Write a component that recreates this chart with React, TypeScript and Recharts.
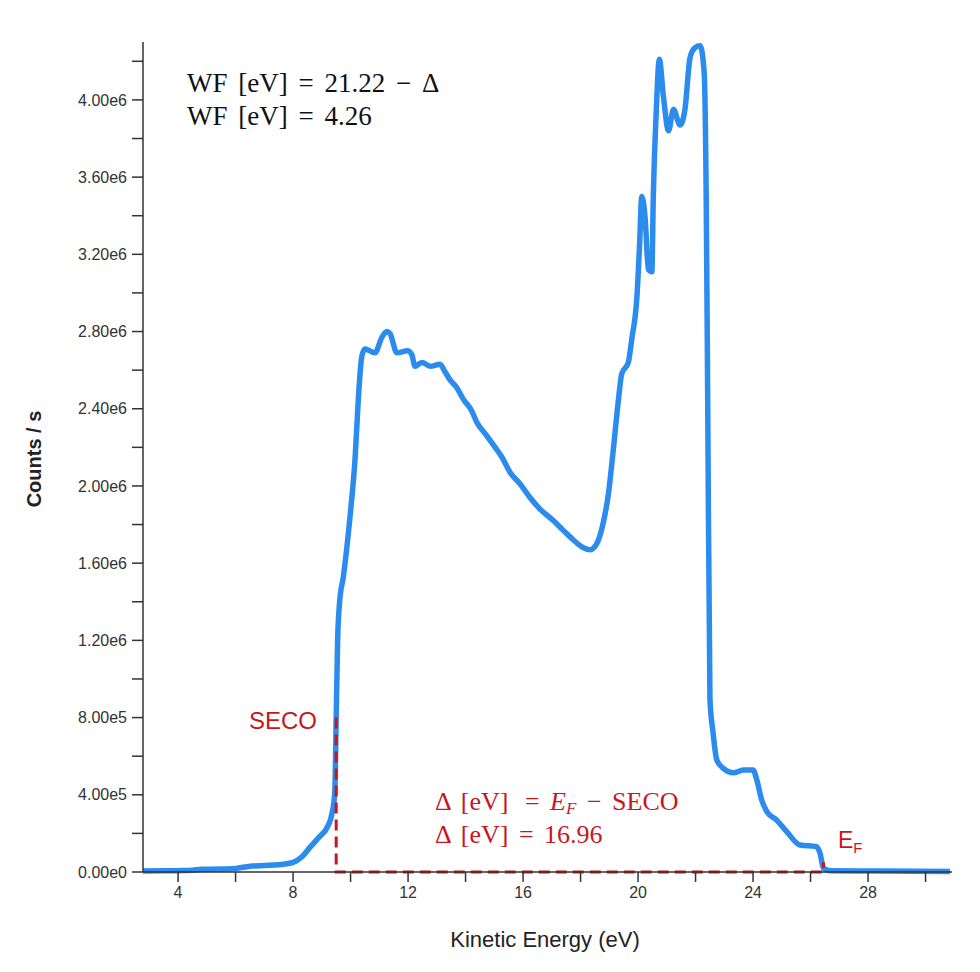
import { LineChart, Line, XAxis, YAxis } from 'recharts';

// UPS spectrum
const energy = [
  2.78, 3.5, 4.0, 4.5, 4.8, 5.5, 6.0, 6.5, 7.0, 7.5, 8.0, 8.3, 8.6, 8.9, 9.2, 9.35, 9.45, 9.5, 9.55, 9.62,
  9.75, 9.98, 10.16, 10.27, 10.39, 10.5, 10.85, 11.09, 11.26, 11.37, 11.61, 11.98, 12.13, 12.24, 12.48,
  12.77, 13.11, 13.29, 13.46, 13.69, 13.92, 14.21, 14.39, 14.74, 15.03, 15.26, 15.55, 15.9, 16.24, 16.59,
  17.06, 17.4, 17.75, 18.1, 18.33, 18.56, 18.79, 18.97, 19.14, 19.32, 19.43, 19.66, 19.78, 19.96, 20.05,
  20.13, 20.24, 20.36, 20.48, 20.53, 20.63, 20.74, 20.88, 21.06, 21.23, 21.46, 21.63, 21.81, 21.98, 22.16,
  22.3, 22.37, 22.42, 22.5, 22.61, 22.74, 22.97, 23.32, 23.66, 24.0, 24.13, 24.3, 24.48, 24.82, 25.17,
  25.63, 26.21, 26.33, 26.45, 26.68, 28.4, 30.85,
];
const counts = [
  5e3, 6e3, 7e3, 9e3, 1.4e4, 1.5e4, 1.8e4, 3.0e4, 3.4e4, 3.8e4, 5.0e4, 7.8e4, 1.3e5, 1.8e5, 2.35e5, 3.0e5,
  4.1e5, 8.0e5, 1.2e6, 1.4e6, 1.53e6, 1.84e6, 2.15e6, 2.45e6, 2.67e6, 2.71e6, 2.69e6, 2.77e6, 2.8e6, 2.79e6,
  2.69e6, 2.7e6, 2.68e6, 2.62e6, 2.64e6, 2.62e6, 2.63e6, 2.59e6, 2.55e6, 2.51e6, 2.45e6, 2.39e6, 2.33e6,
  2.26e6, 2.2e6, 2.15e6, 2.07e6, 2.01e6, 1.94e6, 1.88e6, 1.82e6, 1.77e6, 1.72e6, 1.68e6, 1.67e6, 1.7e6,
  1.81e6, 1.96e6, 2.19e6, 2.45e6, 2.58e6, 2.64e6, 2.76e6, 2.98e6, 3.24e6, 3.5e6, 3.4e6, 3.12e6, 3.11e6,
  3.5e6, 3.93e6, 4.21e6, 4.02e6, 3.84e6, 3.95e6, 3.87e6, 3.95e6, 4.22e6, 4.27e6, 4.28e6, 4.14e6, 3.5e6,
  2.5e6, 9.0e5, 7.2e5, 5.8e5, 5.37e5, 5.14e5, 5.28e5, 5.28e5, 4.77e5, 3.73e5, 3.13e5, 2.69e5, 2.09e5,
  1.4e5, 1.31e5, 9.7e4, 1.9e4, 7e3, 5e3, 2e3,
];

// SECO / Fermi edge construction (dashed)
const edgeEnergy = [9.5, 9.5, 26.45, 26.45];
const edgeCounts = [8.0e5, 0, 0, 5e4];

const xTicks = [4, 6, 8, 10, 12, 14, 16, 18, 20, 22, 24, 26, 28, 30];
const yTicks = [
  0, 2e5, 4e5, 6e5, 8e5, 1e6, 1.2e6, 1.4e6, 1.6e6, 1.8e6, 2e6, 2.2e6, 2.4e6, 2.6e6, 2.8e6, 3e6, 3.2e6, 3.4e6,
  3.6e6, 3.8e6, 4e6, 4.2e6,
];

const spectrum = energy.map((x, i) => ({ x, y: counts[i] }));
const edges = edgeEnergy.map((x, i) => ({ x, y: edgeCounts[i] }));

const BLUE = '#2b8cee';
const RED = '#c8161e';
const AXIS = '#333';

const fmtX = (v: number) => (v % 4 === 0 ? String(v) : '');
const fmtY = (v: number) => {
  if (Math.round(v / 2e5) % 2 !== 0) return '';
  return v.toExponential(2).replace('+', '');
};

const W = 964;
const H = 956;

export default function App() {
  const tickStyle = { fontSize: 16, fill: AXIS, fontFamily: 'Liberation Sans, Arial, sans-serif' };
  return (
    <div style={{ position: 'relative', width: W, height: H }}>
      <LineChart width={W} height={H} data={spectrum} margin={{ top: 34, right: 20, bottom: 62, left: 0 }}>
        <XAxis
          type="number"
          dataKey="x"
          domain={[2.78, 30.92]}
          ticks={xTicks}
          tickFormatter={fmtX}
          height={30}
          stroke={AXIS}
          strokeWidth={1.5}
          tickSize={10}
          tickMargin={5}
          tick={tickStyle}
          interval={0}
        />
        <YAxis
          type="number"
          dataKey="y"
          domain={[0, 4.3e6]}
          ticks={yTicks}
          tickFormatter={fmtY}
          width={135}
          stroke={AXIS}
          strokeWidth={1.5}
          tickSize={11}
          tickMargin={5}
          tick={tickStyle}
          interval={0}
        />
        <Line
          type="monotone"
          dataKey="y"
          stroke={BLUE}
          strokeWidth={5.5}
          dot={false}
          isAnimationActive={false}
          strokeLinejoin="round"
        />
        <Line
          data={edges}
          type="linear"
          dataKey="y"
          stroke={RED}
          strokeWidth={3}
          strokeDasharray="11 6"
          dot={false}
          isAnimationActive={false}
        />
      </LineChart>
      <svg
        width={W}
        height={H}
        style={{ position: 'absolute', left: 0, top: 0, pointerEvents: 'none' }}
      >
        <g fontFamily="Liberation Serif, Times New Roman, serif" fontSize={27} fill="#111">
          <text x={179} y={84} wordSpacing={4}>WF [eV] = 21.22 − Δ</text>
          <text x={179} y={117} wordSpacing={4}>WF [eV] = 4.26</text>
        </g>
        <g fontFamily="Liberation Serif, Times New Roman, serif" fontSize={26} fill={RED}>
          <text x={427} y={802} wordSpacing={4}>
            Δ [eV] <tspan dx={6}>=</tspan> <tspan fontStyle="italic">E</tspan>
            <tspan fontStyle="italic" fontSize={17} dy={4}>F</tspan>
            <tspan dy={-4}> − SECO</tspan>
          </text>
          <text x={427} y={835} wordSpacing={4}>Δ [eV] = 16.96</text>
        </g>
        <g fontFamily="Liberation Sans, Arial, sans-serif" fill={RED}>
          <text x={241} y={721} fontSize={24}>SECO</text>
          <text x={830} y={840} fontSize={23}>
            E<tspan fontSize={15} dy={5}>F</tspan>
          </text>
        </g>
        <text
          x={537}
          y={939}
          textAnchor="middle"
          fontFamily="Liberation Sans, Arial, sans-serif"
          fontSize={22}
          fill="#222"
        >
          Kinetic Energy (eV)
        </text>
        <text
          x={0}
          y={0}
          transform="translate(33 451) rotate(-90)"
          textAnchor="middle"
          fontFamily="Liberation Sans, Arial, sans-serif"
          fontSize={20}
          fontWeight="bold"
          fill="#222"
        >
          Counts / s
        </text>
      </svg>
    </div>
  );
}
